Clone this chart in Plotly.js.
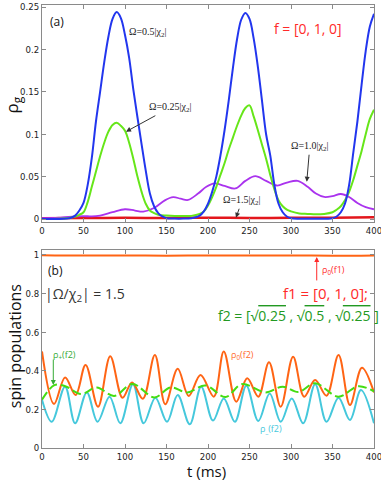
<!DOCTYPE html>
<html>
<head>
<meta charset="utf-8">
<script src="https://cdn.plot.ly/plotly-3.0.1.min.js"></script>
<style>
  html, body { margin:0; padding:0; background:#fff; }
  #chart { width:381px; height:480px; }
</style>
</head>
<body>
<div id="chart"></div>
<script>
// (a) ground state population rho_g(t) for four drive strengths
const tOm05 = [0, 20, 30, 35, 40, 45, 50, 55, 60, 65, 70, 75, 80, 85, 90, 95, 100, 105, 110, 115, 120, 125, 130, 135, 140, 145, 150, 160, 170, 180, 185, 190, 195, 200, 205, 210, 215, 220, 225, 230, 235, 240, 245, 250, 255, 260, 265, 270, 275, 280, 285, 290, 295, 300, 310, 330, 350, 355, 360, 365, 370, 375, 380, 385, 390, 395, 400];
const rhoOm05 = [0, 0, 0.0005, 0.0015, 0.004, 0.010, 0.019, 0.040, 0.072, 0.115, 0.150, 0.185, 0.215, 0.236, 0.244, 0.237, 0.217, 0.190, 0.153, 0.120, 0.088, 0.057, 0.030, 0.015, 0.007, 0.003, 0.001, 0.0005, 0.0005, 0.001, 0.002, 0.004, 0.009, 0.018, 0.032, 0.050, 0.075, 0.105, 0.140, 0.178, 0.212, 0.235, 0.243, 0.236, 0.213, 0.180, 0.140, 0.100, 0.075, 0.040, 0.018, 0.008, 0.003, 0.001, 0.0003, 0.0003, 0.001, 0.003, 0.008, 0.018, 0.040, 0.078, 0.115, 0.158, 0.198, 0.227, 0.242];

const tOm025 = [0, 20, 30, 40, 45, 50, 55, 60, 65, 70, 75, 80, 85, 90, 95, 100, 105, 110, 115, 120, 125, 130, 135, 140, 150, 160, 170, 180, 190, 195, 200, 205, 210, 215, 220, 225, 230, 235, 240, 245, 250, 255, 260, 265, 270, 275, 280, 285, 290, 295, 300, 310, 320, 330, 340, 350, 355, 360, 365, 370, 375, 380, 385, 390, 395, 400];
const rhoOm025 = [0, 0.0003, 0.001, 0.003, 0.005, 0.008, 0.020, 0.038, 0.056, 0.074, 0.090, 0.103, 0.111, 0.1135, 0.110, 0.104, 0.090, 0.071, 0.050, 0.032, 0.018, 0.010, 0.007, 0.005, 0.004, 0.0035, 0.0035, 0.0037, 0.006, 0.009, 0.016, 0.026, 0.038, 0.052, 0.066, 0.082, 0.096, 0.110, 0.122, 0.131, 0.134, 0.121, 0.105, 0.088, 0.071, 0.052, 0.035, 0.022, 0.015, 0.011, 0.009, 0.0065, 0.006, 0.0055, 0.006, 0.008, 0.011, 0.015, 0.022, 0.032, 0.046, 0.063, 0.080, 0.100, 0.118, 0.129];

const tOm10 = [0, 20, 40, 50, 60, 70, 85, 100, 112, 122, 135, 148, 158, 167, 176, 188, 198, 208, 220, 233, 245, 257, 270, 283, 295, 308, 320, 330, 340, 350, 360, 370, 380, 390, 400];
const rhoOm10 = [0.001, 0.0015, 0.003, 0.0035, 0.003, 0.004, 0.008, 0.0115, 0.010, 0.0088, 0.013, 0.022, 0.0257, 0.024, 0.0225, 0.030, 0.038, 0.042, 0.039, 0.036, 0.045, 0.0505, 0.045, 0.0395, 0.043, 0.045, 0.038, 0.030, 0.026, 0.027, 0.0295, 0.026, 0.019, 0.014, 0.0115];

const tOm15 = [0, 50, 100, 150, 200, 250, 300, 350, 400];
const rhoOm15 = [0.001, 0.0012, 0.0014, 0.0012, 0.0015, 0.0012, 0.0014, 0.0016, 0.002];

// (b) spin populations for |Omega/chi2| = 1.5
const tF1 = [0, 50, 100, 150, 200, 250, 300, 350, 400];
const rho0F1 = [0.999, 0.997, 0.998, 0.996, 0.998, 0.997, 0.998, 0.996, 0.998];

const tRho0 = [0, 14.5, 27.8, 40.5, 52.5, 67.5, 82.2, 97, 108.5, 121.5, 136, 148.5, 163.5, 176.8, 191, 207, 219, 234, 247.3, 260.6, 273.5, 287.6, 302.5, 315.8, 329.1, 342.8, 357.3, 371, 385.5, 400];
const rho0F2 = [0.50, 0.228, 0.365, 0.275, 0.43, 0.214, 0.475, 0.26, 0.34, 0.255, 0.482, 0.227, 0.41, 0.27, 0.378, 0.266, 0.50, 0.24, 0.361, 0.266, 0.444, 0.214, 0.473, 0.266, 0.352, 0.271, 0.482, 0.223, 0.416, 0.288];

const tRhoM = [0, 11.7, 27.8, 39.9, 54, 66.9, 81.4, 94.3, 109.6, 122.5, 136.6, 150.6, 163.5, 178, 191.8, 206, 219, 232.4, 246.2, 260.6, 274.3, 287.6, 300.9, 314.6, 329.1, 342.8, 357.3, 371, 384.3, 400];
const rhoMF2 = [0.25, 0.136, 0.318, 0.128, 0.288, 0.136, 0.266, 0.128, 0.33, 0.128, 0.261, 0.136, 0.275, 0.123, 0.318, 0.142, 0.257, 0.136, 0.323, 0.14, 0.283, 0.136, 0.257, 0.128, 0.33, 0.136, 0.261, 0.145, 0.30, 0.128];

const tRhoP = [0, 15, 28, 47, 66, 87, 109, 135.5, 155, 175, 197, 221, 241, 269.5, 290, 309, 329, 357, 381, 400];
const rhoPF2 = [0.25, 0.326, 0.32, 0.28, 0.313, 0.27, 0.332, 0.262, 0.314, 0.288, 0.324, 0.264, 0.331, 0.288, 0.318, 0.29, 0.336, 0.266, 0.32, 0.293];

const tTicks = [0, 50, 100, 150, 200, 250, 300, 350, 400];
const rhoTicksA = [0, 0.05, 0.1, 0.15, 0.2, 0.25];
const rhoLabelsA = ['0', '0.05', '0.1', '0.15', '0.2', '0.25'];
const popTicksB = [0, 0.2, 0.4, 0.6, 0.8, 1];
const popLabelsB = ['0', '0.2', '0.4', '0.6', '0.8', '1'];

const tickFont = { family: 'Liberation Sans Narrow, DejaVu Sans Condensed, sans-serif', size: 9.5, color: '#222' };
const textFont = 'Open Sans, Noto Sans, sans-serif';
const serifFont = 'Liberation Serif, DejaVu Serif, serif';

function line(x, y, color, width, xa, ya, dash) {
  return { x: x, y: y, type: 'scatter', mode: 'lines', xaxis: xa, yaxis: ya,
           line: { color: color, width: width, shape: 'spline', dash: dash || 'solid' },
           hoverinfo: 'skip' };
}

const traces = [
  line(tOm15, rhoOm15, '#e3161c', 2.5, 'x', 'y'),
  line(tOm10, rhoOm10, '#aa33ee', 1.8, 'x', 'y'),
  line(tOm025, rhoOm025, '#66e619', 2, 'x', 'y'),
  line(tOm05, rhoOm05, '#2236ee', 2, 'x', 'y'),
  line(tF1, rho0F1, '#ff6414', 2, 'x2', 'y2'),
  line(tRhoM, rhoMF2, '#45c8dc', 2, 'x2', 'y2'),
  line(tRho0, rho0F2, '#ff6414', 2, 'x2', 'y2'),
  line(tRhoP, rhoPF2, '#44dd11', 2, 'x2', 'y2', '9px,4px')
];

const axisBase = {
  showline: true, linecolor: '#8a8a8a', linewidth: 1, mirror: 'ticks',
  ticks: 'inside', ticklen: 4, tickcolor: '#8a8a8a', showgrid: false,
  zeroline: false, tickfont: tickFont, fixedrange: true, ticklabeloverflow: 'allow'
};

function note(text, x, y, xa, ya, size, color, family) {
  return { text: text, x: x, y: y, xref: xa, yref: ya, showarrow: false,
           xanchor: 'center', yanchor: 'middle',
           font: { size: size, color: color, family: family || textFont } };
}
function arrowNote(text, x, y, ax, ay, xa, ya, size, color, arrowcolor, family) {
  return { text: text, x: x, y: y, xref: xa, yref: ya, showarrow: true,
           ax: ax, ay: ay, arrowhead: 2, arrowsize: 1, arrowwidth: 1,
           arrowcolor: arrowcolor, standoff: 0,
           font: { size: size, color: color, family: family || textFont } };
}

const ol = s => `<span style="text-decoration:overline">${s}</span>`;

const annotations = [
  // panel (a)
  note('(a)', 18, 0.2335, 'x', 'y', 12, '#111'),
  note('Ω=0.5|χ<sub>2</sub>|', 127.7, 0.2205, 'x', 'y', 10, '#222', serifFont),
  note('f = [0, 1, 0]', 320.5, 0.225, 'x', 'y', 14, '#ff2a2a'),
  arrowNote('Ω=0.25|χ<sub>2</sub>|', 101.2, 0.103, 44, -24, 'x', 'y', 10, '#222', '#333', serifFont),
  arrowNote('Ω=1.0|χ<sub>2</sub>|', 319, 0.044, 3, -35, 'x', 'y', 10, '#222', '#333', serifFont),
  arrowNote('Ω=1.5|χ<sub>2</sub>|', 233.7, 0.0015, 6, -17, 'x', 'y', 10, '#222', '#333', serifFont),
  // panel (b)
  note('(b)', 15.7, 0.922, 'x2', 'y2', 12, '#111'),
  note('|Ω/χ<sub>2</sub>| = 1.5', 51.8, 0.793, 'x2', 'y2', 14, '#333'),
  arrowNote('', 331, 0.99, 0, 25, 'x2', 'y2', 9, '#ff2a2a', '#ff2a2a'),
  note('ρ<sub>0</sub>(f1)', 350.6, 0.922, 'x2', 'y2', 9, '#ff2a2a'),
  note('f1 = [0, 1, 0];', 342, 0.803, 'x2', 'y2', 15, '#ff2a2a'),
  note(`f2 = [√${ol('0.25')} , √${ol('0.5')} , √${ol('0.25')} ]`, 309.6, 0.689, 'x2', 'y2', 14, '#229922'),
  arrowNote('', 13.6, 0.326, 0, -27, 'x2', 'y2', 9, '#33aa33', '#33aa33'),
  note('ρ<sub>+</sub>(f2)', 27.7, 0.482, 'x2', 'y2', 9, '#33aa33'),
  note('ρ<sub>0</sub>(f2)', 241, 0.482, 'x2', 'y2', 9, '#ff6a2a'),
  note('ρ<sub>_</sub>(f2)', 276, 0.098, 'x2', 'y2', 9, '#45c8dc'),
  // axis titles
  { text: 'ρ<sub>g</sub>', x: -0.088, y: 0.775, xref: 'paper', yref: 'paper', showarrow: false,
    xanchor: 'center', yanchor: 'middle',
    textangle: -90, font: { size: 17, color: '#111', family: textFont } },
  { text: 'spin populations', x: -0.081, y: 0.23, xref: 'paper', yref: 'paper', showarrow: false,
    xanchor: 'center', yanchor: 'middle',
    textangle: -90, font: { size: 16, color: '#111', family: textFont } },
  { text: 't (ms)', x: 0.494, y: -0.052, xref: 'paper', yref: 'paper', showarrow: false,
    xanchor: 'center', yanchor: 'middle',
    font: { size: 15, color: '#111', family: textFont } }
];

const layout = {
  width: 381, height: 480,
  margin: { l: 42, r: 7, t: 5, b: 32 },
  paper_bgcolor: '#fff', plot_bgcolor: '#fff',
  showlegend: false,
  xaxis: Object.assign({}, axisBase, { domain: [0, 1], range: [0, 400], anchor: 'y', tickvals: tTicks }),
  yaxis: Object.assign({}, axisBase, { domain: [0.5102, 1], range: [-0.0035, 0.2524], anchor: 'x',
                                       tickvals: rhoTicksA, ticktext: rhoLabelsA }),
  xaxis2: Object.assign({}, axisBase, { domain: [0, 1], range: [0, 400], anchor: 'y2', tickvals: tTicks }),
  yaxis2: Object.assign({}, axisBase, { domain: [0, 0.447], range: [0, 1.026], anchor: 'x2',
                                        tickvals: popTicksB, ticktext: popLabelsB }),
  annotations: annotations
};

Plotly.newPlot('chart', traces, layout, { staticPlot: true, displayModeBar: false });
</script>
</body>
</html>
